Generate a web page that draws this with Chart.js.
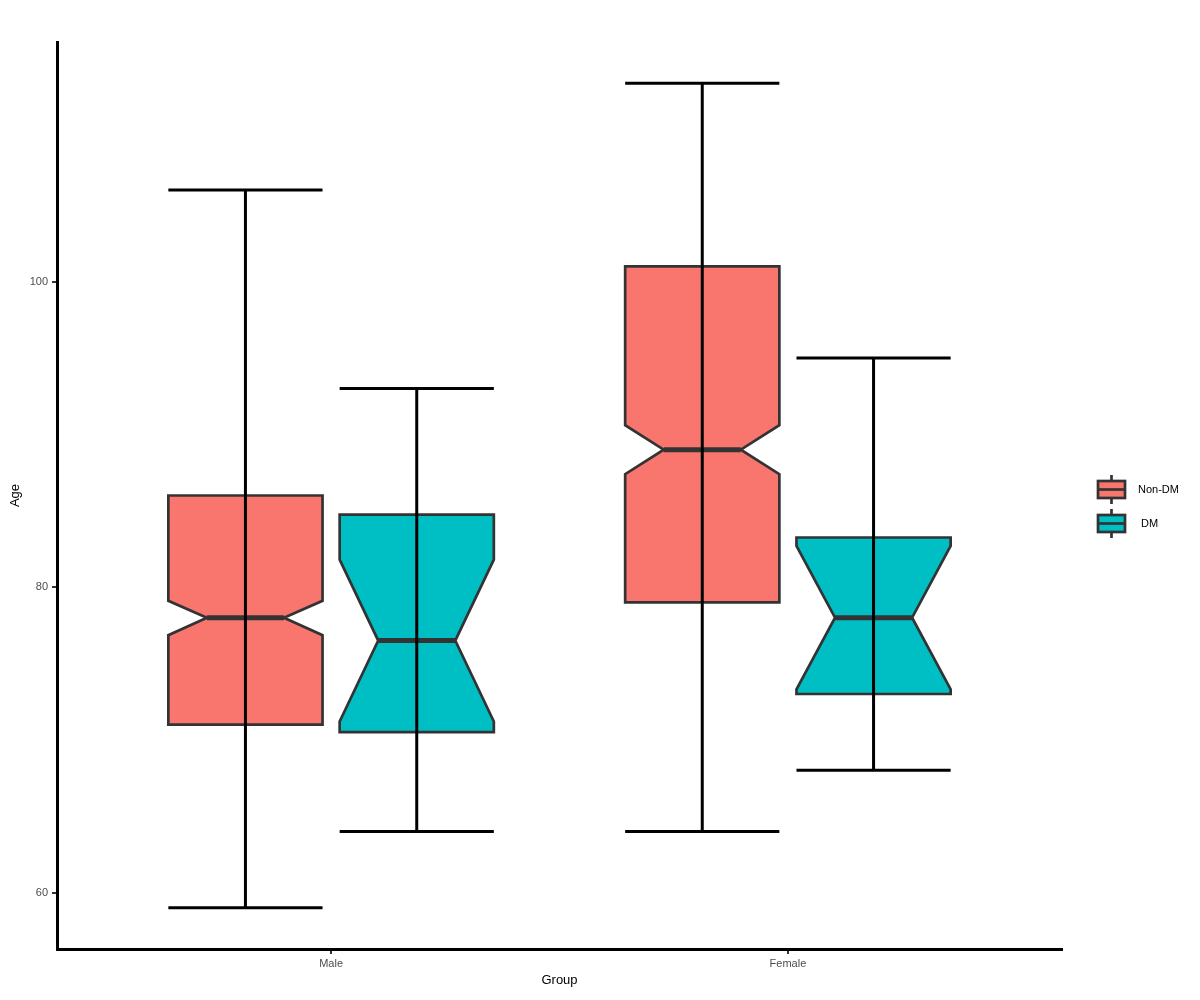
<!DOCTYPE html>
<html>
<head>
<meta charset="utf-8">
<script src="https://cdn.jsdelivr.net/npm/chart.js@4"></script>
<style>
html,body{margin:0;padding:0;background:#fff;}
canvas{display:block;}
</style>
</head>
<body>
<canvas id="c" width="1200" height="1000"></canvas>
<script>
// ---- data ----
const categories = ['Male', 'Female'];
const groups = ['Non-DM', 'DM'];
const groupColors = ['#F8766D', '#00BFC4'];
const yTicks = [60, 80, 100];

const nonDmLow    = [59, 64];
const nonDmQ1     = [71, 79];
const nonDmMedian = [78, 89];
const nonDmQ3     = [86, 101];
const nonDmHigh   = [106, 113];
const nonDmNotchLo = [76.85, 87.4];
const nonDmNotchHi = [79.1, 90.6];

const dmLow    = [64, 68];
const dmQ1     = [70.5, 73];
const dmMedian = [76.5, 78];
const dmQ3     = [84.75, 83.25];
const dmHigh   = [93, 95];
const dmNotchLo = [71.2, 73.3];
const dmNotchHi = [81.8, 82.7];

const stats = [
  {low: nonDmLow, q1: nonDmQ1, med: nonDmMedian, q3: nonDmQ3, high: nonDmHigh, nlo: nonDmNotchLo, nhi: nonDmNotchHi},
  {low: dmLow, q1: dmQ1, med: dmMedian, q3: dmQ3, high: dmHigh, nlo: dmNotchLo, nhi: dmNotchHi}
];

const DODGE = 0.1875;
const HALF_W = 0.16875;
const NOTCH = 0.5;
const FONT = "'Liberation Sans', Arial, sans-serif";

const boxPlugin = {
  id: 'notchedBoxes',
  afterDatasetsDraw(chart) {
    const ctx = chart.ctx, xs = chart.scales.x, ys = chart.scales.y;
    ctx.save();
    groups.forEach((g, gi) => {
      const s = stats[gi];
      categories.forEach((c, ci) => {
        const cx = ci + 1 + (gi === 0 ? -DODGE : DODGE);
        const L = xs.getPixelForValue(cx - HALF_W), R = xs.getPixelForValue(cx + HALF_W);
        const nL = xs.getPixelForValue(cx - HALF_W * NOTCH), nR = xs.getPixelForValue(cx + HALF_W * NOTCH);
        const yq3 = ys.getPixelForValue(s.q3[ci]), yq1 = ys.getPixelForValue(s.q1[ci]);
        const ym = ys.getPixelForValue(s.med[ci]);
        const yhi = ys.getPixelForValue(s.nhi[ci]), ylo = ys.getPixelForValue(s.nlo[ci]);
        ctx.beginPath();
        ctx.moveTo(L, yq3); ctx.lineTo(R, yq3); ctx.lineTo(R, yhi); ctx.lineTo(nR, ym);
        ctx.lineTo(R, ylo); ctx.lineTo(R, yq1); ctx.lineTo(L, yq1); ctx.lineTo(L, ylo);
        ctx.lineTo(nL, ym); ctx.lineTo(L, yhi); ctx.closePath();
        ctx.fillStyle = groupColors[gi]; ctx.fill();
        ctx.lineWidth = 2.7; ctx.strokeStyle = '#333333'; ctx.lineJoin = 'miter'; ctx.stroke();
        ctx.beginPath(); ctx.moveTo(nL, ym); ctx.lineTo(nR, ym);
        ctx.lineWidth = 5; ctx.lineCap = 'butt'; ctx.stroke();
      });
    });
    groups.forEach((g, gi) => {
      const s = stats[gi];
      categories.forEach((c, ci) => {
        const cx = ci + 1 + (gi === 0 ? -DODGE : DODGE);
        const L = xs.getPixelForValue(cx - HALF_W), R = xs.getPixelForValue(cx + HALF_W);
        const X = xs.getPixelForValue(cx);
        const yT = ys.getPixelForValue(s.high[ci]), yB = ys.getPixelForValue(s.low[ci]);
        ctx.beginPath();
        ctx.moveTo(X, yT); ctx.lineTo(X, yB);
        ctx.moveTo(L, yT); ctx.lineTo(R, yT);
        ctx.moveTo(L, yB); ctx.lineTo(R, yB);
        ctx.strokeStyle = '#000'; ctx.lineWidth = 3; ctx.lineCap = 'butt'; ctx.stroke();
      });
    });
    // legend
    const keyL = 1098, keyR = 1125, keyC = 1111.5;
    const keyTops = [481, 515];
    const textX = [1138, 1141];
    groups.forEach((g, gi) => {
      const t = keyTops[gi], b = t + 17;
      ctx.strokeStyle = '#333333'; ctx.lineWidth = 2.7;
      ctx.beginPath(); ctx.moveTo(keyC, t - 6); ctx.lineTo(keyC, b + 6); ctx.stroke();
      ctx.fillStyle = groupColors[gi];
      ctx.fillRect(keyL, t, keyR - keyL, b - t);
      ctx.strokeRect(keyL, t, keyR - keyL, b - t);
      ctx.beginPath(); ctx.moveTo(keyL, (t + b) / 2); ctx.lineTo(keyR, (t + b) / 2); ctx.stroke();
      ctx.fillStyle = '#000'; ctx.font = '11px ' + FONT;
      ctx.textAlign = 'left'; ctx.textBaseline = 'middle';
      ctx.fillText(g, textX[gi], (t + b) / 2);
    });
    ctx.restore();
  }
};

new Chart(document.getElementById('c'), {
  type: 'scatter',
  data: {
    datasets: groups.map((g, gi) => ({
      label: g,
      data: categories.map((c, ci) => ({x: ci + 1 + (gi === 0 ? -DODGE : DODGE), y: stats[gi].med[ci]})),
      pointRadius: 0,
      backgroundColor: groupColors[gi]
    }))
  },
  options: {
    responsive: false,
    animation: false,
    devicePixelRatio: 1,
    layout: {padding: {left: 0, top: 42, right: 138, bottom: 0}},
    plugins: {legend: {display: false}, tooltip: {enabled: false}},
    scales: {
      x: {
        type: 'linear', min: 0.4, max: 2.6,
        afterFit(s) { s.height = 51; },
        afterBuildTicks(s) { s.ticks = categories.map((c, i) => ({value: i + 1})); },
        ticks: {callback: (v) => categories[Math.round(v) - 1] || '', font: {size: 11, family: FONT}, color: '#4d4d4d', padding: 3, maxRotation: 0},
        grid: {drawOnChartArea: false, drawTicks: true, tickLength: 5, color: '#333333', lineWidth: 2},
        border: {display: true, color: '#000', width: 3},
        title: {display: true, text: 'Group', font: {size: 13, family: FONT}, color: '#000', padding: {top: 0, bottom: 12}}
      },
      y: {
        type: 'linear', min: 56.3, max: 115.7,
        afterFit(s) { s.width = 57; },
        afterBuildTicks(s) { s.ticks = yTicks.map(v => ({value: v})); },
        ticks: {font: {size: 11, family: FONT}, color: '#4d4d4d', padding: 4},
        grid: {drawOnChartArea: false, drawTicks: true, tickLength: 5, color: '#333333', lineWidth: 2},
        border: {display: true, color: '#000', width: 3},
        title: {display: true, text: 'Age', font: {size: 13, family: FONT}, color: '#000', padding: {top: 8, bottom: 0}}
      }
    }
  },
  plugins: [boxPlugin]
});
</script>
</body>
</html>
